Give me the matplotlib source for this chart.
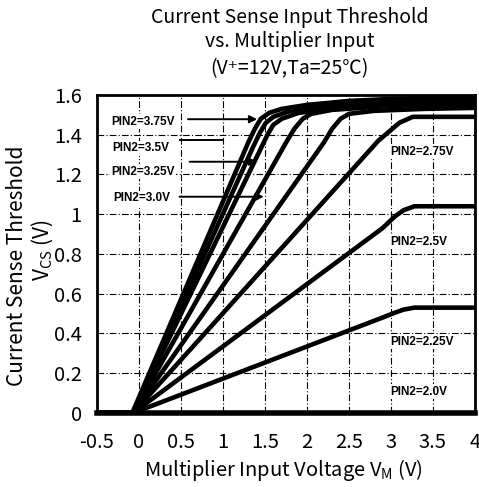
import numpy as np
import matplotlib.pyplot as plt

plt.rcParams['font.family'] = ['Noto Sans CJK JP', 'DejaVu Sans']

# curves (V_M, V_CS) per PIN2 voltage
vm_375 = [-0.5, -0.08, 1.30, 1.38, 1.45, 1.55, 1.7, 2.0, 2.5, 3.0, 4.0]
vcs_375 = [0, 0, 1.36, 1.43, 1.48, 1.51, 1.53, 1.55, 1.57, 1.58, 1.59]
vm_350 = [-0.5, -0.07, 1.36, 1.44, 1.51, 1.60, 1.8, 2.2, 3.0, 4.0]
vcs_350 = [0, 0, 1.34, 1.41, 1.46, 1.49, 1.52, 1.545, 1.565, 1.578]
vm_325 = [-0.5, -0.07, 1.45, 1.53, 1.60, 1.70, 1.9, 2.4, 3.2, 4.0]
vcs_325 = [0, 0, 1.33, 1.40, 1.45, 1.48, 1.51, 1.535, 1.555, 1.565]
vm_300 = [-0.5, -0.07, 1.75, 1.85, 1.95, 2.05, 2.3, 3.0, 4.0]
vcs_300 = [0, 0, 1.36, 1.43, 1.48, 1.505, 1.525, 1.545, 1.555]
vm_unl = [-0.5, -0.07, 2.2, 2.3, 2.4, 2.5, 2.8, 3.4, 4.0]
vcs_unl = [0, 0, 1.36, 1.43, 1.48, 1.505, 1.52, 1.53, 1.535]
vm_275 = [-0.5, -0.07, 2.85, 2.99, 3.1, 3.26, 4.0]
vcs_275 = [0, 0, 1.37, 1.42, 1.46, 1.49, 1.49]
vm_250 = [-0.5, -0.07, 2.9, 3.05, 3.15, 3.28, 4.0]
vcs_250 = [0, 0, 0.93, 0.99, 1.02, 1.04, 1.04]
vm_225 = [-0.5, -0.07, 2.9, 3.05, 3.15, 3.28, 4.0]
vcs_225 = [0, 0, 0.48, 0.505, 0.52, 0.53, 0.53]
vm_200 = [-0.5, 4.0]
vcs_200 = [0, 0]

curves = [(vm_375, vcs_375), (vm_350, vcs_350), (vm_325, vcs_325),
          (vm_300, vcs_300), (vm_unl, vcs_unl), (vm_275, vcs_275),
          (vm_250, vcs_250), (vm_225, vcs_225)]

fig = plt.figure(figsize=(4.79, 4.87), dpi=100)
ax = fig.add_axes([0.2025, 0.152, 0.789, 0.653])

for vm, vcs in curves:
    ax.plot(vm, vcs, color='black', lw=3.3, solid_joinstyle='round')
ax.plot(vm_200, vcs_200, color='black', lw=4, clip_on=False)

ax.set_xlim(-0.5, 4)
ax.set_ylim(0, 1.6)
ax.set_xticks(np.arange(-0.5, 4.01, 0.5))
ax.set_xticklabels(['-0.5', '0', '0.5', '1', '1.5', '2', '2.5', '3', '3.5', '4'])
ax.set_yticks(np.arange(0, 1.61, 0.2))
ax.set_yticklabels(['0', '0.2', '0.4', '0.6', '0.8', '1', '1.2', '1.4', '1.6'])
ax.tick_params(length=0, labelsize=14.5)
ax.tick_params(axis='x', pad=14)
ax.tick_params(axis='y', pad=11)
ax.grid(True, color='black', lw=0.8, ls=(0, (6, 2, 1, 2)))
for s in ax.spines.values():
    s.set_linewidth(2)

# labels on the right side
lab = dict(fontsize=8.5, family='Liberation Sans', fontweight='bold',
           bbox=dict(facecolor='white', edgecolor='none', pad=1))
ax.text(2.99, 1.315, 'PIN2=2.75V', va='center', **lab)
ax.text(2.99, 0.862, 'PIN2=2.5V', va='center', **lab)
ax.text(2.99, 0.359, 'PIN2=2.25V', va='center', **lab)
ax.text(2.99, 0.107, 'PIN2=2.0V', va='center', **lab)

# labels with arrows on the left side
ax.text(0.048, 1.466, 'PIN2=3.75V', ha='center', va='center', **lab)
ax.text(0.024, 1.332, 'PIN2=3.5V', ha='center', va='center', **lab)
ax.text(0.048, 1.214, 'PIN2=3.25V', ha='center', va='center', **lab)
ax.text(0.032, 1.080, 'PIN2=3.0V', ha='center', va='center', **lab)
arr = dict(arrowstyle='-|>', color='black', lw=1.4, mutation_scale=11)
ax.annotate('', xy=(1.44, 1.478), xytext=(0.55, 1.478), arrowprops=arr)
ax.plot([0.49, 1.0], [1.374, 1.374], color='black', lw=1.4)
ax.annotate('', xy=(1.44, 1.264), xytext=(0.57, 1.264), arrowprops=arr)
ax.annotate('', xy=(1.52, 1.088), xytext=(0.45, 1.088), arrowprops=arr)

fig.text(0.591, 0.035, 'Multiplier Input Voltage $\\mathregular{V_M}$ (V)',
         ha='center', va='center', fontsize=14.5)
fig.text(0.0355, 0.454, 'Current Sense Threshold', rotation=90,
         ha='center', va='center', fontsize=15)
fig.text(0.0877, 0.487, '$\\mathregular{V_{CS}}$ (V)', rotation=90,
         ha='center', va='center', fontsize=15)
title_lines = ['Current Sense Input Threshold', 'vs. Multiplier Input',
               '(V\u207a=12V,Ta=25\u2103)']
for t, yy in zip(title_lines, [0.965, 0.914, 0.860]):
    fig.text(0.605, yy, t, ha='center', va='center', fontsize=14)

fig.savefig('out.png', dpi=100)
